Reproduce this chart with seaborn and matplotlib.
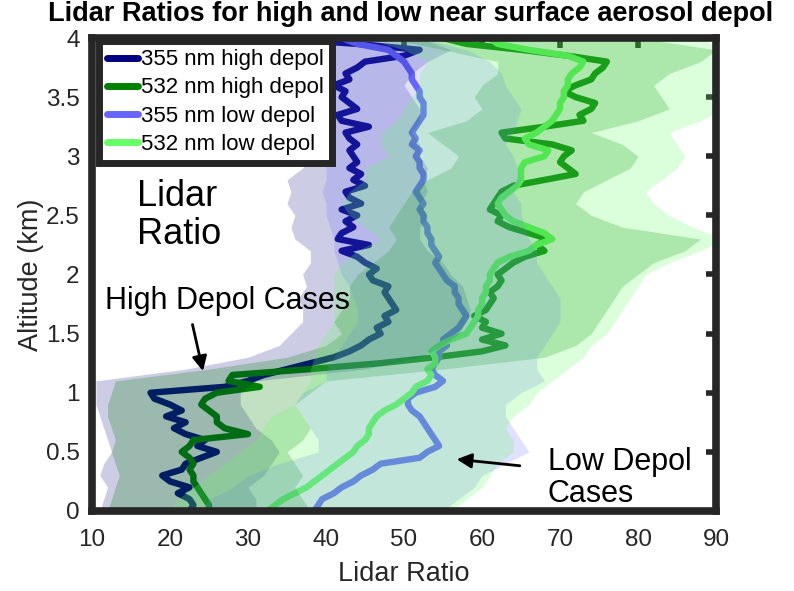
import numpy as np
import pandas as pd
import matplotlib
matplotlib.use("Agg")
import matplotlib.pyplot as plt
import seaborn as sns
from matplotlib import font_manager as fm

# ---------------- data ----------------
alt_line = np.round(np.arange(0, 4.0001, 0.05), 2)
alt_env = np.round(np.arange(0, 4.0001, 0.1), 1)

lr355_high = [22.5, 23, 22.5, 21, 22.5, 20, 19, 21.5, 22, 24,
              26, 23.5, 24.5, 22, 20.5, 22, 19.5, 21.5, 20, 18,
              17.5, 27, 30, 32, 35, 38, 41, 43, 44.5, 45.5,
              47, 46.5, 48, 47.5, 49, 48.5, 48, 47.5, 48, 46,
              45.5, 46.5, 45, 44, 42, 45.5, 41.5, 42, 43.5, 42.5,
              44, 42, 44.5, 43, 42.5, 45, 43.5, 44.5, 43, 44,
              43.5, 43, 44, 43, 42.5, 45.5, 42, 41.5, 44, 43,
              42, 42.5, 41, 43, 42.5, 44, 45, 50, 52, 44,
              33]
lr532_high = [25, 25, 24.5, 24, 23.5, 23, 23, 22.5, 23, 22.5,
              21.5, 22.5, 23, 30, 27, 26, 26, 25, 24, 24.5,
              26, 31.5, 27.5, 28, 38, 47, 54, 60, 63, 60,
              62.5, 60, 60.5, 59, 60.5, 61, 61.5, 61, 62, 62.5,
              62, 63, 64, 65.5, 68, 67, 68.5, 66, 63.5, 62,
              62.5, 61, 61.5, 62, 62.5, 64, 68, 72, 71, 70,
              70.5, 71.5, 69, 63, 62.5, 68, 73, 72.5, 74, 74.5,
              72, 70.5, 72, 74, 74.5, 75.5, 76, 71, 65, 58,
              55]
lr355_low = [38.5, 39, 39.5, 41, 42, 43.5, 44.5, 46, 47, 52,
             53, 54.5, 54, 53.5, 53, 52.5, 52, 51, 50.5, 50.5,
             51.5, 54, 55, 54, 53.5, 54, 54.5, 54.5, 55.5, 55,
             56, 57, 57.5, 58, 57.5, 57, 57, 56.5, 56.5, 55.5,
             55, 54.5, 54, 54.5, 54, 53.5, 53.5, 53, 53, 52.5,
             52.5, 52, 52.5, 52, 51.5, 52, 52.5, 52.5, 52, 52,
             51.5, 52, 51, 51.5, 51, 51.5, 52, 52.5, 52.5, 52.5,
             52, 52, 51.5, 51, 51, 50.5, 50, 49, 48, 44,
             42]
lr532_low = [32.5, 33.5, 34.5, 36, 37.5, 38.5, 39.5, 40.5, 41.5, 42.5,
             43.5, 44, 45, 45.5, 45.5, 46, 46.5, 47.5, 49, 50,
             51, 51.5, 53, 53.5, 53, 54, 54, 53.5, 54.5, 56,
             58, 58.5, 59, 59.5, 59.5, 60, 60, 60.5, 60.5, 61,
             61, 61.5, 62, 63.5, 66, 67, 69, 68, 66, 64,
             63, 62.5, 62, 62.5, 63.5, 64.5, 65, 65, 65, 65.5,
             68, 68.5, 66, 65.5, 67, 68, 69, 69.5, 70, 70,
             70.5, 70.5, 71, 71, 71.5, 72.5, 73, 71, 66, 62,
             61]

# envelopes (0.1 km grid)
env355_high_lo = [11, 11.5, 12, 11, 11.5, 12.5, 12, 11.5, 11, 10.5, 10.5, 10.5,
                  22, 30, 34, 35.5, 37, 37, 36.5, 37.5, 37, 38, 38, 36, 35.5, 36,
                  35, 35.5, 35, 37, 38, 39, 38, 39, 40, 39, 40, 40, 40.5, 41, 40]
env355_high_hi = [31, 31, 30, 32, 33, 34, 33, 31, 30, 29, 29, 31,
                  45, 52, 55, 57, 58, 58.5, 58, 57.5, 56, 55, 53, 52, 52, 53,
                  52, 53, 52.5, 53, 52, 52, 51, 52, 52, 51, 50, 51, 53, 56, 52]
env355_low_lo = [24, 25, 28, 30, 34, 39, 39, 38, 37, 36, 37, 40, 40, 41, 42, 43, 44,
                 44, 43.5, 43, 42, 41.5, 41, 41, 40.5, 40, 40, 39.5, 40, 40, 39.5,
                 39, 39, 40, 40.5, 40, 40, 39.5, 39, 38, 34]
env355_low_hi = [55, 57, 59, 60, 63, 66, 65, 64, 63, 63, 65, 68, 67, 67, 68, 69, 70,
                 70, 70, 69, 68, 67, 67, 66, 65.5, 65, 65, 64, 65, 64.5, 64, 63, 64,
                 64.5, 65, 64, 63, 62.5, 61, 58, 52]
env532_high_lo = [12, 12.5, 13, 13.5, 13, 12.5, 13, 12.5, 12, 12, 12.5, 13,
                  25, 35, 40, 42, 41, 42, 43, 43, 44, 46, 48, 49, 48, 49, 50, 51,
                  53, 56, 57, 55, 53, 58, 60, 59, 60, 62, 62, 55, 48]
env532_high_hi = [38, 37, 36, 37, 36, 35, 37, 38, 37, 36, 38, 40,
                  55, 68, 72, 74, 75, 76, 77, 78, 80, 82, 86, 88, 78, 74, 72, 73,
                  76, 79, 80, 78, 74, 80, 84, 83, 82, 84, 88, 90, 80]
env532_low_lo = [20, 21, 23, 25, 27, 29, 31, 32, 33, 36, 37, 38, 38, 38.5, 39, 40,
                 41, 41, 41, 41, 41, 42, 44, 47, 45, 43, 42, 43, 45, 45, 48, 47,
                 47, 49, 50, 51, 52, 52, 53, 50, 45]
env532_low_hi = [56, 58, 60, 61, 62, 64, 64, 63, 64, 66, 67, 69, 71, 73, 74, 76,
                 77, 78, 79, 80, 81, 84, 88, 91, 87, 84, 82, 81, 83, 85, 86, 85,
                 84, 88, 91, 91, 91, 91, 91, 91, 88]

series_names = ["355 nm high depol", "532 nm high depol",
                "355 nm low depol", "532 nm low depol"]
xticks_vals = [10, 20, 30, 40, 50, 60, 70, 80, 90]
yticks_vals = [0, 0.5, 1, 1.5, 2, 2.5, 3, 3.5, 4]
ytick_labels = ["0", "0.5", "1", "1.5", "2", "2.5", "3", "3.5", "4"]

# ---------------- style ----------------
sns.set_style("white")


def has_font(name):
    try:
        fm.findfont(fm.FontProperties(family=name), fallback_to_default=False)
        return True
    except Exception:
        return False


if has_font("Liberation Sans Narrow"):
    tick_font, tick_size, title_size, lab_size = "Liberation Sans Narrow", 21.5, 23.5, 22.5
else:
    tick_font, tick_size, title_size, lab_size = "Liberation Sans", 17.5, 19.5, 19.5
plt.rcParams["font.family"] = ["Liberation Sans", "DejaVu Sans"]

dark = "#262626"
line_cols = ["#000080", "#008000", "#6666ff", "#66ff66"]
fill_cols = ["#000080", "#008000", "#6666ff", "#66ff66"]
fill_alpha = [0.2, 0.24, 0.2, 0.24]

fig = plt.figure(figsize=(7.94, 5.91), dpi=100)
ax = fig.add_axes([0.1159, 0.1354, 0.7859, 0.8003])

df_lines = pd.DataFrame({
    "alt": np.tile(alt_line, 4),
    "lr": np.concatenate([lr355_high, lr532_high, lr355_low, lr532_low]),
    "series": np.repeat(series_names, len(alt_line)),
})
envs = [(env355_high_lo, env355_high_hi), (env532_high_lo, env532_high_hi),
        (env355_low_lo, env355_low_hi), (env532_low_lo, env532_low_hi)]

for name, col in zip(series_names, line_cols):
    sub = df_lines[df_lines["series"] == name]
    sns.lineplot(data=sub, x="lr", y="alt", orient="y", sort=False,
                 estimator=None, color=col, linewidth=4.6, label=name,
                 ax=ax, zorder=1)

for (lo, hi), col, a in zip(envs, fill_cols, fill_alpha):
    ax.fill_betweenx(alt_env, lo, hi, color=col, alpha=a, lw=0, zorder=1.5)

ax.set_xlim(10, 90)
ax.set_ylim(0, 4)
ax.set_xticks(xticks_vals)
ax.set_yticks(yticks_vals)
ax.set_yticklabels(ytick_labels)
ax.set_axisbelow(True)
for s in ax.spines.values():
    s.set_linewidth(5.5)
    s.set_color(dark)
    s.set_zorder(3)
ax.tick_params(direction="in", length=7, width=4, color=dark, top=True,
               right=True, labelcolor=dark, pad=9)
ax.tick_params(axis="x", pad=13)
for lab in ax.get_xticklabels() + ax.get_yticklabels():
    lab.set_fontfamily(tick_font)
    lab.set_fontsize(tick_size)

ax.set_xlabel("Lidar Ratio", fontfamily=tick_font, fontsize=lab_size,
              color=dark, labelpad=7)
ax.set_ylabel("Altitude (km)", fontfamily=tick_font, fontsize=lab_size,
              color=dark, labelpad=1)

fig.text(0.517, 0.998, "Lidar Ratios for high and low near surface aerosol depol",
         ha="center", va="top", fontsize=title_size, fontweight="bold",
         fontfamily=tick_font, color="black")

# annotations
ax.text(15.8, 2.5, "Lidar\nRatio", fontsize=26, color="black",
        va="center", ha="left", linespacing=1.1, zorder=4)
ax.text(11.6, 1.78, "High Depol Cases", fontsize=22, color="black",
        va="center", ha="left", zorder=4)
ax.annotate("", xy=(24.3, 1.16), xytext=(22.8, 1.6),
            arrowprops=dict(arrowstyle="-|>", color="black", lw=2,
                            mutation_scale=22), zorder=4)
ax.text(68.4, 0.28, "Low Depol\nCases", fontsize=22, color="black",
        va="center", ha="left", linespacing=1.1, zorder=4)
ax.annotate("", xy=(56.4, 0.44), xytext=(65.2, 0.38),
            arrowprops=dict(arrowstyle="-|>", color="black", lw=2,
                            mutation_scale=22), zorder=4)

leg = ax.legend(loc="upper left", bbox_to_anchor=(0.011, 0.994),
                borderaxespad=0, fontsize=16, frameon=True, fancybox=False,
                framealpha=1, handlelength=1.4, handletextpad=0.1,
                labelspacing=0.32, borderpad=0.38)
leg.get_frame().set_linewidth(5)
leg.get_frame().set_edgecolor(dark)
leg.get_frame().set_facecolor("white")
for h in leg.get_lines():
    h.set_linewidth(5)
for t in leg.get_texts():
    t.set_color("black")

fig.savefig("out.png", dpi=100, facecolor="white")
